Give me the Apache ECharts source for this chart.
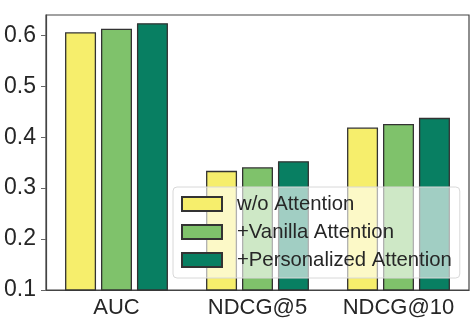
<!DOCTYPE html>
<html>
<head>
<meta charset="utf-8">
<script src="https://cdn.jsdelivr.net/npm/echarts@6/dist/echarts.min.js"></script>
<style>
html,body{margin:0;padding:0;background:#fff;}
#bar{width:474px;height:335px;}
</style>
</head>
<body>
<div id="bar"></div>
<script>
var categories = ['AUC', 'NDCG@5', 'NDCG@10'];
var seriesNames = ['w/o Attention', '+Vanilla Attention', '+Personalized Attention'];
var woAttention = [0.606, 0.334, 0.419];
var vanillaAttention = [0.613, 0.341, 0.426];
var personalizedAttention = [0.624, 0.353, 0.438];
var colors = ['#f6ee6c', '#7fc26b', '#087f62'];

var FONT = "'Liberation Sans', Arial, sans-serif";

var chart = echarts.init(document.getElementById('bar'));

function makeSeries(name, data, color) {
	return {
		name: name,
		type: 'bar',
		barWidth: 31,
		barGap: '16%',
		data: data,
		itemStyle: {
			color: color,
			borderColor: '#333',
			borderWidth: 1.3
		}
	};
}

var option = {
	animation: false,
	textStyle: { fontFamily: FONT },
	grid: {
		left: 46,
		right: 5,
		top: 15,
		bottom: 45,
		show: true,
		borderColor: '#444',
		borderWidth: 1.2
	},
	legend: {
		orient: 'vertical',
		left: 173,
		top: 187,
		padding: [7, 8, 8, 8],
		itemWidth: 40,
		itemHeight: 14,
		itemGap: 8,
		icon: 'rect',
		backgroundColor: 'rgba(255,255,255,0.62)',
		borderColor: '#d8d8d8',
		borderWidth: 1,
		borderRadius: 4,
		textStyle: {
			fontFamily: FONT,
			fontSize: 20.3,
			color: '#262626',
			padding: [0, 0, 0, 10]
		},
		data: seriesNames
	},
	xAxis: {
		type: 'category',
		data: categories,
		axisLine: { lineStyle: { color: '#444', width: 1.2 } },
		axisTick: { alignWithLabel: true, length: 5, lineStyle: { color: '#666' } },
		axisLabel: {
			interval: 0,
			fontFamily: FONT,
			fontSize: 22,
			color: '#262626',
			margin: 7
		}
	},
	yAxis: {
		type: 'value',
		min: 0.1,
		max: 0.64,
		interval: 0.1,
		splitLine: { show: false },
		axisLine: { show: true, lineStyle: { color: '#444', width: 1.2 } },
		axisTick: { show: true, length: 5, lineStyle: { color: '#666' } },
		axisLabel: {
			fontFamily: FONT,
			fontSize: 23,
			color: '#262626',
			margin: 10,
			showMaxLabel: false,
			formatter: function (v) { return v.toFixed(1); }
		}
	},
	series: [
		makeSeries(seriesNames[0], woAttention, colors[0]),
		makeSeries(seriesNames[1], vanillaAttention, colors[1]),
		makeSeries(seriesNames[2], personalizedAttention, colors[2])
	]
};

chart.setOption(option);
</script>
</body>
</html>
